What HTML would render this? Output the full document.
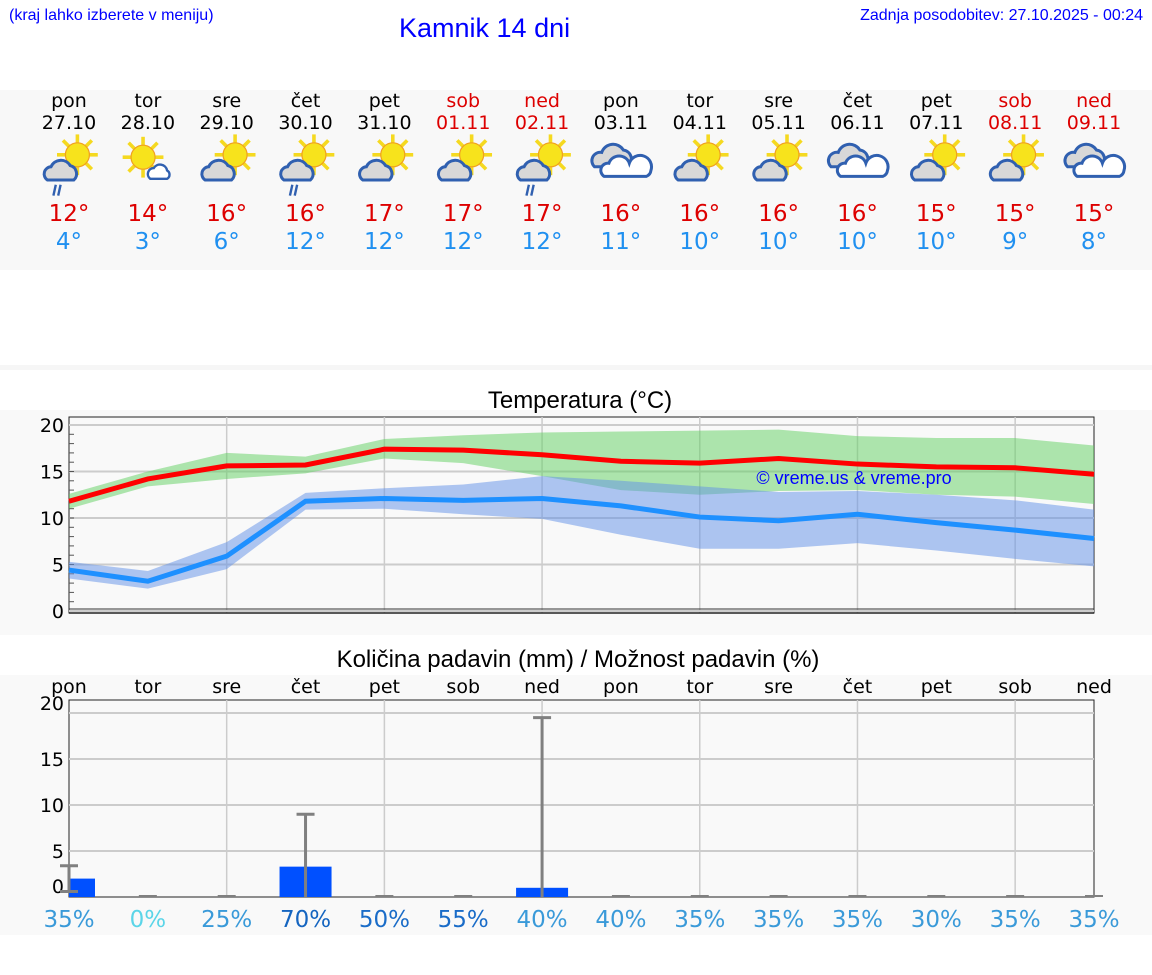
<!DOCTYPE html>
<html><head><meta charset="utf-8"><style>
body{margin:0;width:1152px;height:975px;background:#fff;font-family:"DejaVu Sans","Liberation Sans",sans-serif;position:relative;overflow:hidden}
.a{position:absolute}
</style></head><body>
<div class="a" style="left:9px;top:7px;font-size:16px;color:#00f;font-family:'Liberation Sans',sans-serif">(kraj lahko izberete v meniju)</div>
<div class="a" style="left:399px;top:13px;font-size:27px;color:#00f;font-family:'Liberation Sans',sans-serif">Kamnik 14 dni</div>
<div class="a" style="right:9px;top:7px;font-size:16px;color:#00f;font-family:'Liberation Sans',sans-serif">Zadnja posodobitev: 27.10.2025 - 00:24</div>
<div class="a" style="left:0;top:90px;width:1152px;height:180px;background:#f8f8f8"></div>
<div class="a" style="left:0;top:365px;width:1152px;height:5px;background:#f6f6f6"></div>
<div class="a" style="left:0;top:410px;width:1152px;height:225px;background:#f9f9f9"></div>
<div class="a" style="left:0;top:675px;width:1152px;height:260px;background:#f9f9f9"></div>
<svg class="a" style="left:0;top:0" width="1152" height="975" id="svg" font-family="DejaVu Sans, Liberation Sans, sans-serif"></svg>
<script>
const days=["pon","tor","sre","čet","pet","sob","ned","pon","tor","sre","čet","pet","sob","ned"];
const dates=["27.10","28.10","29.10","30.10","31.10","01.11","02.11","03.11","04.11","05.11","06.11","07.11","08.11","09.11"];
const icons=["sr","s","sc","sr","sc","sc","sr","c","sc","sc","c","sc","sc","c"];
const tmax=[12,14,16,16,17,17,17,16,16,16,16,15,15,15];
const tmin=[4,3,6,12,12,12,12,11,10,10,10,10,9,8];
const maxLine=[11.8,14.2,15.6,15.7,17.4,17.3,16.8,16.1,15.9,16.4,15.8,15.5,15.4,14.7];
const minLine=[4.4,3.2,5.9,11.8,12.1,11.9,12.1,11.3,10.1,9.7,10.4,9.5,8.7,7.8];
const maxHi=[12.6,15,17,16.6,18.5,18.9,19.2,19.3,19.4,19.5,18.8,18.6,18.6,17.8];
const maxLo=[11,13.4,14.2,14.8,16.4,15.9,14.5,13,12.5,12.9,13.0,12.5,12.3,11.5];
const minHi=[5.3,4.3,7.4,12.7,13.2,13.6,14.5,14.0,13.4,12.8,12.9,12.5,11.9,10.9];
const minLo=[3.5,2.4,4.5,10.9,11.0,10.4,9.9,8.2,6.7,6.7,7.3,6.5,5.6,4.8];
const rain=[2.0,0,0,3.3,0,0,1.0,0,0,0,0,0,0,0];
const rainHi=[3.4,0,0,9,0,0,19.5,0,0,0,0,0,0,0];
const rainLo=[0.6,0,0,0,0,0,0,0,0,0,0,0,0,0];
const prob=[35,0,25,70,50,55,40,40,35,35,35,30,35,35];
const tTicks=[0,5,10,15,20];
const pTicks=[0,5,10,15,20];
const NS="http://www.w3.org/2000/svg",svg=document.getElementById('svg');
function el(t,a,p){const e=document.createElementNS(NS,t);for(const k in a)e.setAttribute(k,a[k]);(p||svg).appendChild(e);return e;}
const X=i=>69+i*(1025/13);
const TY=v=>611-v*9.3;
const PY=v=>897-v*9.2;
days.forEach((d,i)=>{
 const we=i==5||i==6||i==12||i==13, x=X(i);
 let t=el('text',{x:x,y:107,'text-anchor':'middle','font-size':19,fill:we?'#d00':'#000'});t.textContent=d;
 
 t=el('text',{x:x,y:129,'text-anchor':'middle','font-size':19,fill:we?'#d00':'#000'});t.textContent=dates[i];
 
 const g=el('g',{transform:`translate(${x},162) scale(1.2)`});
 
 const ic=icons[i];
 if(ic!='c'){const sx=ic=='s'?-4:7,sy=ic=='s'?-4:-6;
  for(let k=0;k<8;k++){const a=k*Math.PI/4;el('line',{x1:sx+Math.cos(a)*10,y1:sy+Math.sin(a)*10,x2:sx+Math.cos(a)*17,y2:sy+Math.sin(a)*17,stroke:'#f5d920','stroke-width':3},g);}
  el('circle',{cx:sx,cy:sy,r:10,fill:'#f7e31c',stroke:'#f0a020','stroke-width':1},g);}
 if(ic=='s'){el('path',{d:'M2,14 a5,5 0 0 1 3,-9 a6,6 0 0 1 11,2 a4,4 0 0 1 0,7 z',fill:'#fff',stroke:'#3060b0','stroke-width':2},g);}
 else if(ic=='c'){el('path',{d:'M-22,4 a7,7 0 0 1 6,-12 a10,10 0 0 1 18,-2 a8,8 0 0 1 4,14 z',fill:'#d8d8d8',stroke:'#3060b0','stroke-width':2.5},g);
  el('path',{d:'M-14,12 a6,6 0 0 1 4,-11 a9,9 0 0 1 17,0 a7,7 0 0 1 18,6 a6,6 0 0 1 -4,5 z',fill:'#fff',stroke:'#3060b0','stroke-width':2.5},g);}
 else{el('path',{d:'M-18,15 a6,6 0 0 1 3,-11 a9,9 0 0 1 16,-1 a7,7 0 0 1 3,12 z',fill:'#d8d8d8',stroke:'#3060b0','stroke-width':2.5},g);}
 if(ic=='sr'){el('path',{d:'M-11,19 l-2,9 M-7,19 l-2,9',stroke:'#3060b0','stroke-width':2},g);}
 t=el('text',{x:x,y:221,'text-anchor':'middle','font-size':23,fill:'#d00'});t.textContent=tmax[i]+'°';
 
 t=el('text',{x:x,y:249,'text-anchor':'middle','font-size':23,fill:'#2090f0'});t.textContent=tmin[i]+'°';
 
});
let t=el('text',{x:580,y:408,'text-anchor':'middle','font-size':24,fill:'#000','font-family':'Liberation Sans, sans-serif'});t.textContent='Temperatura (°C)';

el('rect',{x:69,y:417,width:1025,height:196,fill:'#f9f9f9',stroke:'#222','stroke-width':1});
tTicks.forEach(v=>{el('line',{x1:69,x2:1094,y1:TY(v),y2:TY(v),stroke:'#ccc','stroke-width':2});
 const l=el('text',{x:64,y:TY(v)+7,'text-anchor':'end','font-size':19});l.textContent=v;
 });
for(let v=1;v<20;v++)el('line',{x1:69,x2:74,y1:TY(v),y2:TY(v),stroke:'#555'});
for(let i=2;i<13;i+=2)el('line',{x1:X(i),x2:X(i),y1:417,y2:613,stroke:'#ccc','stroke-width':1.5});
function band(hi,lo,fill,name){const p=hi.map((v,i)=>X(i)+','+TY(v)).concat(lo.map((v,i)=>X(i)+','+TY(v)).reverse());
 const e=el('polygon',{points:p.join(' '),fill:fill,'fill-opacity':0.5});}
band(maxHi,maxLo,'#60d060','max-temp-band');band(minHi,minLo,'#5f8fe8','min-temp-band');
function line(a,c,name){const e=el('polyline',{points:a.map((v,i)=>X(i)+','+TY(v)).join(' '),fill:'none',stroke:c,'stroke-width':5});
 }
line(maxLine,'#ff0000','max-temp-line');line(minLine,'#1e90ff','min-temp-line');
t=el('text',{x:854,y:484,'text-anchor':'middle','font-size':18,fill:'#00f','font-family':'Liberation Sans, sans-serif'});t.textContent='© vreme.us & vreme.pro';

el('line',{x1:69,x2:1094,y1:609,y2:609,stroke:'#333'});
el('line',{x1:69,x2:1094,y1:613,y2:613,stroke:'#222','stroke-width':1.5});
t=el('text',{x:578,y:667,'text-anchor':'middle','font-size':24,fill:'#000','font-family':'Liberation Sans, sans-serif'});t.textContent='Količina padavin (mm) / Možnost padavin (%)';

days.forEach((d,i)=>{const l=el('text',{x:X(i),y:693,'text-anchor':'middle','font-size':19});l.textContent=d;
 });
el('rect',{x:69,y:700,width:1025,height:197,fill:'#f9f9f9',stroke:'#222','stroke-width':1});
pTicks.forEach(v=>{if(v>0)el('line',{x1:69,x2:1094,y1:PY(v),y2:PY(v),stroke:'#ccc','stroke-width':2});
 const ly=v==20?710:v==0?893:PY(v)+7;
 const l=el('text',{x:64,y:ly,'text-anchor':'end','font-size':19});l.textContent=v;
 });
for(let i=2;i<13;i+=2)el('line',{x1:X(i),x2:X(i),y1:700,y2:897,stroke:'#ccc','stroke-width':1.5});
const pc=p=>p==0?'#5bd5e8':p>=70?'#1565c0':p>=50?'#1a6cc8':'#3a9ad9';
rain.forEach((v,i)=>{const x=X(i),x0=Math.max(69,x-26),x1=Math.min(1094,x+26);
 if(v>0){const r=el('rect',{x:x0,y:PY(v),width:x1-x0,height:PY(0)-PY(v),fill:'#0050ff'});
  }
 if(rainHi[i]>0){el('line',{x1:x,x2:x,y1:PY(rainHi[i]),y2:PY(rainLo[i]),stroke:'#808080','stroke-width':3});
  el('line',{x1:x-9,x2:x+9,y1:PY(rainHi[i]),y2:PY(rainHi[i]),stroke:'#808080','stroke-width':3});
  if(rainLo[i]>0)el('line',{x1:x-9,x2:x+9,y1:PY(rainLo[i]),y2:PY(rainLo[i]),stroke:'#808080','stroke-width':3});}
 else el('line',{x1:x-9,x2:x+9,y1:896,y2:896,stroke:'#808080','stroke-width':2});
 const l=el('text',{x:x,y:927,'text-anchor':'middle','font-size':23,fill:pc(prob[i])});l.textContent=prob[i]+'%';
 
});
</script>
</body></html>
